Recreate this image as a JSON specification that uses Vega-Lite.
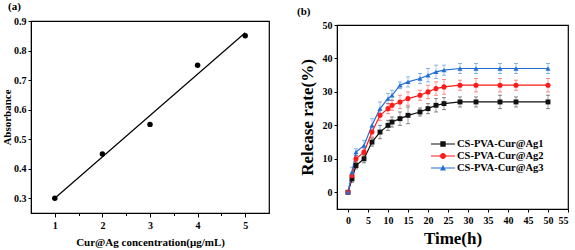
{
  "$schema": "https://vega.github.io/schema/vega-lite/v6.json",
  "padding": {"left": 0, "top": 0, "right": 3, "bottom": 2},
  "bounds": "flush",
  "center": true,
  "spacing": 68,
  "resolve": {"scale": {"color": "independent"}, "legend": {"color": "independent"}},
  "config": {
    "view": {"stroke": "black", "strokeWidth": 1.2},
    "font": "Liberation Serif",
    "axis": {
      "grid": false,
      "domainColor": "black",
      "tickColor": "black",
      "tickSize": 3,
      "labelFont": "Liberation Serif",
      "labelFontWeight": "bold",
      "labelFontSize": 10,
      "labelColor": "black",
      "labelPadding": 2,
      "titleFont": "Liberation Serif",
      "titleFontWeight": "bold",
      "titleColor": "black"
    },
    "title": {"font": "Liberation Serif", "fontWeight": "bold", "fontSize": 11, "color": "black"}
  },
  "datasets": {
    "ptsA": [
      {"conc": 1, "abs": 0.30},
      {"conc": 2, "abs": 0.45},
      {"conc": 3, "abs": 0.55},
      {"conc": 4, "abs": 0.75},
      {"conc": 5, "abs": 0.85}
    ],
    "fitA": [
      {"conc": 1, "abs": 0.30},
      {"conc": 5, "abs": 0.86}
    ],
    "rel": [
      {"t": 0, "s": "CS-PVA-Cur@Ag1", "r": 0, "e": 0.5},
      {"t": 1, "s": "CS-PVA-Cur@Ag1", "r": 4, "e": 1},
      {"t": 2, "s": "CS-PVA-Cur@Ag1", "r": 8, "e": 1},
      {"t": 4, "s": "CS-PVA-Cur@Ag1", "r": 10, "e": 1.2},
      {"t": 6, "s": "CS-PVA-Cur@Ag1", "r": 15, "e": 1.2},
      {"t": 8, "s": "CS-PVA-Cur@Ag1", "r": 18, "e": 2},
      {"t": 10, "s": "CS-PVA-Cur@Ag1", "r": 20, "e": 1.5},
      {"t": 11, "s": "CS-PVA-Cur@Ag1", "r": 21, "e": 1.5},
      {"t": 13, "s": "CS-PVA-Cur@Ag1", "r": 22, "e": 2},
      {"t": 15, "s": "CS-PVA-Cur@Ag1", "r": 23, "e": 2.5},
      {"t": 18, "s": "CS-PVA-Cur@Ag1", "r": 24, "e": 1.2},
      {"t": 20, "s": "CS-PVA-Cur@Ag1", "r": 25, "e": 1.5},
      {"t": 22, "s": "CS-PVA-Cur@Ag1", "r": 26, "e": 2},
      {"t": 24, "s": "CS-PVA-Cur@Ag1", "r": 26.5, "e": 1.8},
      {"t": 28, "s": "CS-PVA-Cur@Ag1", "r": 27, "e": 1.5},
      {"t": 32, "s": "CS-PVA-Cur@Ag1", "r": 27, "e": 1.5},
      {"t": 38, "s": "CS-PVA-Cur@Ag1", "r": 27, "e": 2},
      {"t": 42, "s": "CS-PVA-Cur@Ag1", "r": 27, "e": 1.5},
      {"t": 50, "s": "CS-PVA-Cur@Ag1", "r": 27, "e": 2},
      {"t": 0, "s": "CS-PVA-Cur@Ag2", "r": 0, "e": 0.5},
      {"t": 1, "s": "CS-PVA-Cur@Ag2", "r": 5, "e": 1},
      {"t": 2, "s": "CS-PVA-Cur@Ag2", "r": 10, "e": 1},
      {"t": 4, "s": "CS-PVA-Cur@Ag2", "r": 12, "e": 1.2},
      {"t": 6, "s": "CS-PVA-Cur@Ag2", "r": 18, "e": 1.5},
      {"t": 8, "s": "CS-PVA-Cur@Ag2", "r": 23, "e": 1.5},
      {"t": 10, "s": "CS-PVA-Cur@Ag2", "r": 25, "e": 1.5},
      {"t": 11, "s": "CS-PVA-Cur@Ag2", "r": 26, "e": 1.5},
      {"t": 13, "s": "CS-PVA-Cur@Ag2", "r": 27, "e": 2},
      {"t": 15, "s": "CS-PVA-Cur@Ag2", "r": 28, "e": 2},
      {"t": 18, "s": "CS-PVA-Cur@Ag2", "r": 29, "e": 1.5},
      {"t": 20, "s": "CS-PVA-Cur@Ag2", "r": 30, "e": 2},
      {"t": 22, "s": "CS-PVA-Cur@Ag2", "r": 31, "e": 2},
      {"t": 24, "s": "CS-PVA-Cur@Ag2", "r": 31.5, "e": 2.2},
      {"t": 28, "s": "CS-PVA-Cur@Ag2", "r": 32, "e": 1.5},
      {"t": 32, "s": "CS-PVA-Cur@Ag2", "r": 32, "e": 2},
      {"t": 38, "s": "CS-PVA-Cur@Ag2", "r": 32, "e": 2},
      {"t": 42, "s": "CS-PVA-Cur@Ag2", "r": 32, "e": 1.5},
      {"t": 50, "s": "CS-PVA-Cur@Ag2", "r": 32, "e": 2},
      {"t": 0, "s": "CS-PVA-Cur@Ag3", "r": 0, "e": 0.5},
      {"t": 1, "s": "CS-PVA-Cur@Ag3", "r": 6, "e": 1.5},
      {"t": 2, "s": "CS-PVA-Cur@Ag3", "r": 12, "e": 1},
      {"t": 4, "s": "CS-PVA-Cur@Ag3", "r": 14, "e": 1.5},
      {"t": 6, "s": "CS-PVA-Cur@Ag3", "r": 20, "e": 2},
      {"t": 8, "s": "CS-PVA-Cur@Ag3", "r": 25, "e": 2},
      {"t": 10, "s": "CS-PVA-Cur@Ag3", "r": 28, "e": 1.5},
      {"t": 11, "s": "CS-PVA-Cur@Ag3", "r": 29, "e": 1.5},
      {"t": 13, "s": "CS-PVA-Cur@Ag3", "r": 32, "e": 1},
      {"t": 15, "s": "CS-PVA-Cur@Ag3", "r": 33, "e": 1.5},
      {"t": 18, "s": "CS-PVA-Cur@Ag3", "r": 34, "e": 1.5},
      {"t": 20, "s": "CS-PVA-Cur@Ag3", "r": 35, "e": 2},
      {"t": 22, "s": "CS-PVA-Cur@Ag3", "r": 36, "e": 2},
      {"t": 24, "s": "CS-PVA-Cur@Ag3", "r": 36.5, "e": 1.5},
      {"t": 28, "s": "CS-PVA-Cur@Ag3", "r": 37, "e": 1.5},
      {"t": 32, "s": "CS-PVA-Cur@Ag3", "r": 37, "e": 1.5},
      {"t": 38, "s": "CS-PVA-Cur@Ag3", "r": 37, "e": 1.5},
      {"t": 42, "s": "CS-PVA-Cur@Ag3", "r": 37, "e": 1.5},
      {"t": 50, "s": "CS-PVA-Cur@Ag3", "r": 37, "e": 1.5}
    ]
  },
  "hconcat": [
    {
      "width": 238,
      "height": 192,
      "title": {"text": "(a)", "anchor": "start", "frame": "group", "dx": -23, "offset": 4},
      "encoding": {
        "x": {
          "field": "conc", "type": "quantitative",
          "scale": {"domain": [0.5, 5.5], "nice": false, "zero": false},
          "axis": {
            "values": [1, 1.5, 2, 2.5, 3, 3.5, 4, 4.5, 5],
            "labelExpr": "datum.value % 1 === 0 ? format(datum.value, 'd') : ''",
            "tickSize": {"condition": {"test": "datum.value % 1 === 0", "value": 4}, "value": 2.5},
            "labelPadding": 3,
            "title": "Cur@Ag concentration(μg/mL)",
            "titleFontSize": 11,
            "titlePadding": 6
          }
        },
        "y": {
          "field": "abs", "type": "quantitative",
          "scale": {"domain": [0.25, 0.9], "nice": false, "zero": false},
          "axis": {
            "values": [0.3, 0.4, 0.5, 0.6, 0.7, 0.8, 0.9],
            "format": ".1f",
            "title": "Absorbance",
            "titleFontSize": 11,
            "titlePadding": 1
          }
        }
      },
      "layer": [
        {"data": {"name": "fitA"}, "mark": {"type": "line", "color": "black", "strokeWidth": 1.2}},
        {"data": {"name": "ptsA"}, "mark": {"type": "point", "filled": true, "color": "black", "size": 30, "opacity": 1}}
      ]
    },
    {
      "width": 231,
      "height": 184,
      "title": {"text": "(b)", "anchor": "start", "frame": "group", "dx": -40, "offset": 3},
      "data": {"name": "rel"},
      "encoding": {
        "x": {
          "field": "t", "type": "quantitative",
          "scale": {"domain": [-2.75, 55], "nice": false, "zero": false},
          "axis": {
            "values": [0, 5, 10, 15, 20, 25, 30, 35, 40, 45, 50, 55],
            "labelPadding": 3,
            "title": "Time(h)",
            "titleFontSize": 17,
            "titlePadding": 5
          }
        },
        "y": {
          "field": "r", "type": "quantitative",
          "scale": {"domain": [-5, 50], "nice": false, "zero": false},
          "axis": {
            "values": [0, 10, 20, 30, 40, 50],
            "title": "Release rate(%)",
            "titleFontSize": 17,
            "titlePadding": 6
          }
        },
        "color": {
          "field": "s", "type": "nominal",
          "scale": {"domain": ["CS-PVA-Cur@Ag1", "CS-PVA-Cur@Ag2", "CS-PVA-Cur@Ag3"], "range": ["#111111", "#ff1a1a", "#2270d4"]},
          "legend": {
            "orient": "none", "legendX": 100, "legendY": 113, "title": null,
            "symbolSize": 144, "labelOffset": 8, "rowPadding": 0, "padding": 0,
            "labelFont": "Liberation Serif", "labelFontWeight": "bold", "labelFontSize": 10.5, "labelColor": "black",
            "encode": {
              "symbols": {
                "update": {
                  "shape": {"signal": "datum.value === 'CS-PVA-Cur@Ag1' ? 'M-2,-0.09H2V0.09H-2Z M-0.45,-0.45H0.45V0.45H-0.45Z' : datum.value === 'CS-PVA-Cur@Ag2' ? 'M-2,-0.09H2V0.09H-2Z M-0.5,0A0.5,0.5 0 1,1 0.5,0A0.5,0.5 0 1,1 -0.5,0Z' : 'M-2,-0.09H2V0.09H-2Z M0,-0.55L0.5,0.4L-0.5,0.4Z'"},
                  "strokeWidth": {"value": 0}
                }
              }
            }
          }
        }
      },
      "layer": [
        {
          "mark": {"type": "errorbar", "opacity": 0.5, "ticks": {"size": 4}, "rule": {"strokeWidth": 0.8}},
          "encoding": {"yError": {"field": "e"}}
        },
        {"mark": {"type": "line", "strokeWidth": 1.2}},
        {
          "transform": [{"filter": "datum.s === 'CS-PVA-Cur@Ag1'"}],
          "mark": {"type": "point", "filled": true, "opacity": 1, "size": 24, "shape": "square"}
        },
        {
          "transform": [{"filter": "datum.s === 'CS-PVA-Cur@Ag2'"}],
          "mark": {"type": "point", "filled": true, "opacity": 1, "size": 26, "shape": "circle"}
        },
        {
          "transform": [{"filter": "datum.s === 'CS-PVA-Cur@Ag3'"}],
          "mark": {"type": "point", "filled": true, "opacity": 1, "size": 26, "shape": "triangle-up"}
        }
      ]
    }
  ]
}
